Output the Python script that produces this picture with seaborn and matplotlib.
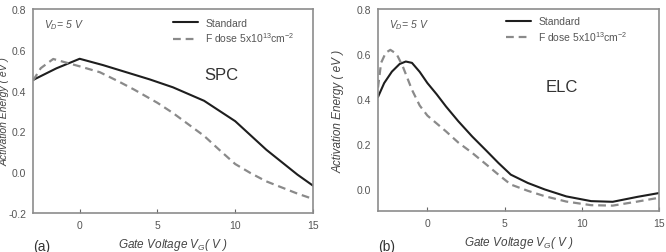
import pandas as pd
import seaborn as sns
import matplotlib.pyplot as plt

# SPC panel (a)
spc_std_v = [-3, -1.5, 0, 1.5, 3, 4.5, 6, 8, 10, 12, 14, 15]
spc_std_e = [0.452, 0.509, 0.556, 0.525, 0.49, 0.455, 0.416, 0.35, 0.25, 0.11, -0.012, -0.066]
spc_f_v = [-3, -2.5, -1.7, -1, 0, 1.3, 2.5, 3.5, 5, 6, 8, 9, 10, 11, 12, 13, 14, 15]
spc_f_e = [0.449, 0.51, 0.555, 0.54, 0.519, 0.49, 0.445, 0.405, 0.34, 0.29, 0.178, 0.108,
           0.04, -0.005, -0.045, -0.075, -0.105, -0.131]

# ELC panel (b)
elc_std_v = [-3.2, -2.8, -2.3, -1.8, -1.4, -1.0, -0.5, 0, 0.6, 1.2, 2, 2.9, 3.8, 4.6, 5.4,
             6.5, 7.6, 9, 10.6, 12, 13.6, 15]
elc_std_e = [0.408, 0.47, 0.521, 0.555, 0.566, 0.56, 0.52, 0.47, 0.42, 0.366, 0.3, 0.232,
             0.17, 0.114, 0.062, 0.025, -0.004, -0.035, -0.056, -0.059, -0.037, -0.02]
elc_f_v = [-3.2, -3.0, -2.7, -2.4, -2.0, -1.6, -1.0, -0.5, 0, 0.6, 1.2, 2, 2.9, 3.8, 4.6,
           5.4, 6.5, 7.6, 9, 10.6, 12, 13.6, 15]
elc_f_e = [0.45, 0.56, 0.605, 0.618, 0.6, 0.545, 0.44, 0.37, 0.325, 0.29, 0.255, 0.205,
           0.159, 0.108, 0.062, 0.018, -0.01, -0.034, -0.058, -0.074, -0.076, -0.058, -0.041]

labels = ['Standard', 'F dose 5x10$^{13}$cm$^{-2}$']

sns.set_theme(style='white')
plt.rcParams['font.family'] = ['Liberation Sans', 'DejaVu Sans']
plt.rcParams['mathtext.fontset'] = 'custom'
plt.rcParams['mathtext.rm'] = 'Liberation Sans'
plt.rcParams['mathtext.it'] = 'Liberation Sans:italic'

txt = '#555555'
fig = plt.figure(figsize=(6.66, 2.53), dpi=100)
ax1 = fig.add_axes([33/666, 39/253, 280/666, 204/253])
ax2 = fig.add_axes([378/666, 41/253, 281/666, 202/253])

panels = [
    (ax1, spc_std_v, spc_std_e, spc_f_v, spc_f_e, 'SPC', (-3, 15), (-0.2, 0.8),
     [-0.2, 0.0, 0.2, 0.4, 0.6, 0.8], (0.611, 0.681), (0.5, 0.892), '(a)', 33, -0.085,
     7.5),
    (ax2, elc_std_v, elc_std_e, elc_f_v, elc_f_e, 'ELC', (-3.2, 15), (-0.1, 0.8),
     [0.0, 0.2, 0.4, 0.6, 0.8], (0.598, 0.614), (0.456, 0.899), '(b)', 378, -0.12,
     8.5),
]

for ax, sv, se, fv, fe, name, xl, yl, yt, tpos, lpos, tag, x0, ylx, yfs in panels:
    d1 = pd.DataFrame({'v': sv, 'e': se})
    d2 = pd.DataFrame({'v': fv, 'e': fe})
    sns.lineplot(data=d1, x='v', y='e', ax=ax, color='#1e1e1e', lw=1.5, label=labels[0])
    sns.lineplot(data=d2, x='v', y='e', ax=ax, color='#8a8a8a', lw=1.6,
                 dashes=(3.5, 2.2), label=labels[1])
    ax.set_xlim(*xl)
    ax.set_ylim(*yl)
    ax.set_xticks([0, 5, 10, 15])
    ax.set_yticks(yt)
    ax.set_yticklabels([f'{t:.1f}' for t in yt])
    ax.tick_params(axis='x', direction='in', length=3, width=0.8, color='#666666',
                   labelsize=7.5, labelcolor=txt, pad=5, bottom=True)
    ax.tick_params(axis='y', length=0, labelsize=7.5, labelcolor=txt, pad=5)
    for s in ax.spines.values():
        s.set_color('#8c8c8c')
        s.set_linewidth(1.2)
    ax.set_xlabel('Gate Voltage $V_G$( V )', fontsize=8.5, style='italic', color='#444444')
    ax.xaxis.set_label_coords(0.5, -0.115)
    ax.set_ylabel('Activation Energy ( eV )', fontsize=yfs, style='italic', color='#444444')
    ax.yaxis.set_label_coords(ylx, 0.5)
    ax.text(tpos[0], tpos[1], name, transform=ax.transAxes, fontsize=12, color='#333333',
            va='center', ha='left')
    ax.text(0.04, 0.926, '$V_D$= 5 V', transform=ax.transAxes, fontsize=7.5,
            style='italic', color=txt, va='center')
    ax.legend(loc='center left', bbox_to_anchor=lpos, frameon=False, fontsize=7.5,
              handlelength=2.4, handletextpad=0.7, borderpad=0, borderaxespad=0,
              labelspacing=0.25, labelcolor=txt)
    fig.text(x0/666, 1 - 240/253, tag, fontsize=10, color='#333333', va='top', ha='left')

plt.savefig('out.png', dpi=100)
